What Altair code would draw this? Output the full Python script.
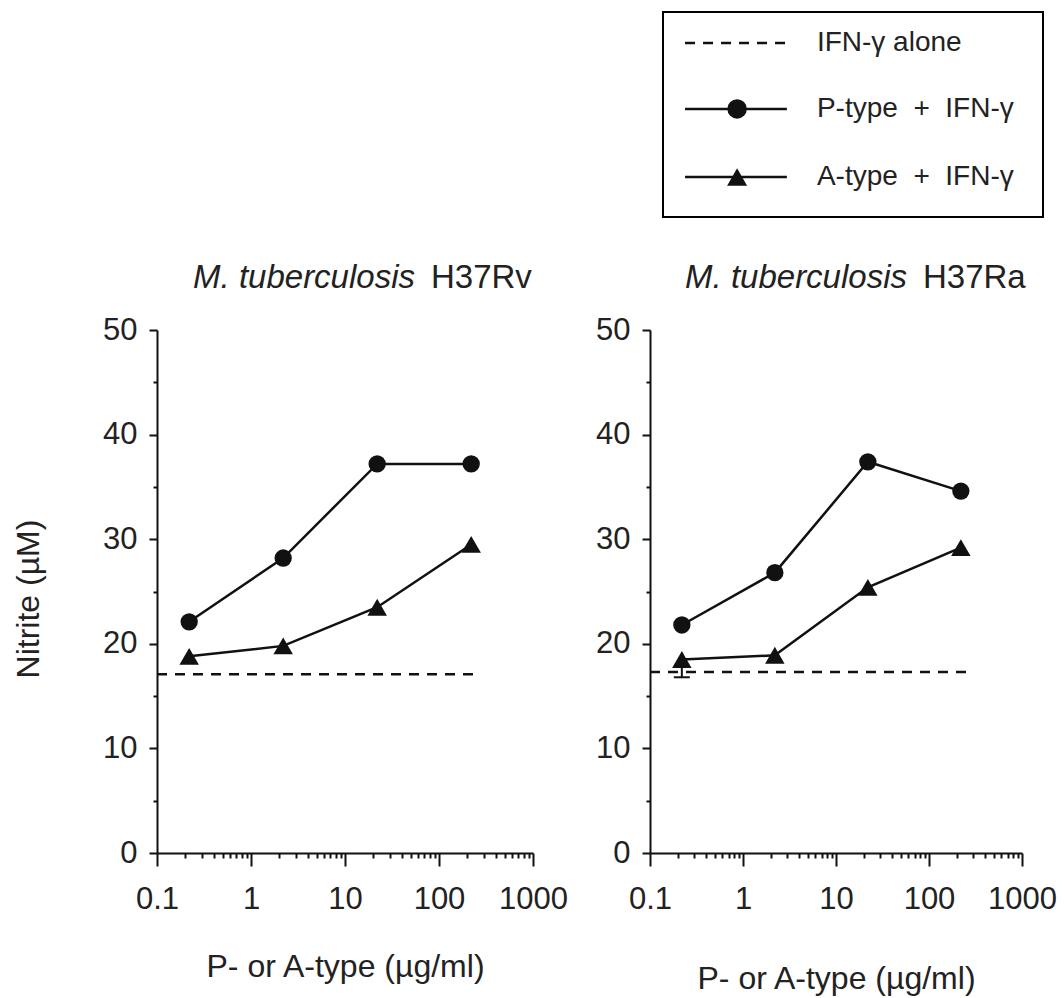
import altair as alt
import pandas as pd

# ---------------- data ----------------
conc = [0.22, 2.2, 22, 220]                 # µg/ml
rv_p = [22.1, 28.2, 37.2, 37.2]             # H37Rv, P-type + IFN-γ
rv_a = [18.8, 19.8, 23.5, 29.5]             # H37Rv, A-type + IFN-γ
rv_ifn = 17.1                               # H37Rv, IFN-γ alone
ra_p = [21.8, 26.8, 37.4, 34.6]             # H37Ra, P-type + IFN-γ
ra_a = [18.5, 18.9, 25.4, 29.2]             # H37Ra, A-type + IFN-γ
ra_ifn = 17.3                               # H37Ra, IFN-γ alone
ra_a_err_low = [16.8]                       # lower error bar, first A-type point (H37Ra)
ifn_x = [0.1, 250]                          # extent of the IFN-γ alone line

x_major = [0.1, 1, 10, 100, 1000]
x_ticks = [round(m * 10 ** e, 6) for e in range(-1, 3) for m in range(1, 10)] + [1000]
y_ticks = [0, 5, 10, 15, 20, 25, 30, 35, 40, 45, 50]
x_title = "P- or A-type (µg/ml)"
y_title = "Nitrite (µM)"
strains = ["H37Rv", "H37Ra"]
species = "M. tuberculosis"
legend_labels = ["IFN-γ alone", "P-type\u00a0 +\u00a0 IFN-γ", "A-type\u00a0 +\u00a0 IFN-γ"]

# ---------------- style ----------------
FONT = "Liberation Sans"
TXT = "#222222"
INK = "#111111"
MAJOR_TEST = "indexof([0.1,1,10,100,1000], datum.value) >= 0"


def make_x(title_y, width):
    return alt.X(
        "c:Q",
        scale=alt.Scale(type="log", domain=[0.1, 1000], nice=False),
        axis=alt.Axis(
            values=x_ticks, format="~g", labelExpr=f"{MAJOR_TEST} ? datum.label : ''",
            tickSize={"condition": {"test": MAJOR_TEST, "value": 13}, "value": 5},
            tickWidth=2, tickColor=INK, domainColor=INK, domainWidth=2, grid=False,
            labelFontSize=31, labelColor=TXT, labelFont=FONT, labelPadding=18,
            labelFlush=False, labelOverlap=False,
            title=x_title, titleFont=FONT, titleFontSize=32, titleFontWeight="normal",
            titleColor=TXT, titleX=width / 2, titleY=title_y, titleAlign="center",
            titleBaseline="middle", titleAngle=0,
        ),
    )


def make_y(show_title, height):
    return alt.Y(
        "v:Q",
        scale=alt.Scale(domain=[0, 50], nice=False, zero=False),
        axis=alt.Axis(
            values=y_ticks, labelExpr="datum.value % 10 == 0 ? datum.label : ''",
            tickSize={"condition": {"test": "datum.value % 10 == 0", "value": 8}, "value": 4},
            tickWidth=2, tickColor=INK, domainColor=INK, domainWidth=2, grid=False,
            labelFontSize=31, labelColor=TXT, labelFont=FONT, labelPadding=12,
            labelOverlap=False,
            title=y_title if show_title else "", titleFont=FONT, titleFontSize=32,
            titleFontWeight="normal", titleColor=TXT, titleX=-129, titleY=height / 2 + 7,
            titleAlign="center", titleBaseline="middle", titleAngle=-90,
        ),
    )


def panel(p, a, ifn, strain, show_ytitle, xtitle_y, width, height, title_split, err=None):
    x = make_x(xtitle_y, width)
    y = make_y(show_ytitle, height)
    df_p = pd.DataFrame({"c": conc, "v": p})
    df_a = pd.DataFrame({"c": conc, "v": a})
    df_i = pd.DataFrame({"c": ifn_x, "v": [ifn, ifn]})

    layers = [
        alt.Chart(df_i).mark_line(color=INK, strokeWidth=2.5, strokeDash=[10, 8]).encode(x=x, y=y),
        alt.Chart(df_p).mark_line(color=INK, strokeWidth=2.5).encode(x=x, y=y),
        alt.Chart(df_a).mark_line(color=INK, strokeWidth=2.5).encode(x=x, y=y),
    ]
    if err is not None:
        df_e = pd.DataFrame({"c": [conc[0]], "v": err, "v2": [a[0]]})
        layers.append(alt.Chart(df_e).mark_rule(color=INK, strokeWidth=2).encode(x=x, y=y, y2="v2:Q"))
        layers.append(alt.Chart(df_e).mark_point(shape="stroke", size=256, color=INK, strokeWidth=2,
                                                 filled=False, opacity=1).encode(x=x, y=y))
    layers += [
        alt.Chart(df_p).mark_point(shape="circle", size=300, filled=True, color=INK, opacity=1).encode(x=x, y=y),
        alt.Chart(df_a).mark_point(shape="triangle-up", size=380, filled=True, color=INK, opacity=1).encode(x=x, y=y),
    ]
    tdf = pd.DataFrame({"sp": [species], "st": [strain]})
    layers += [
        alt.Chart(tdf).mark_text(font=FONT, fontSize=33, fontStyle="italic", color=TXT,
                                 align="right", baseline="alphabetic").encode(
            text="sp:N", x=alt.value(title_split), y=alt.value(-42)),
        alt.Chart(tdf).mark_text(font=FONT, fontSize=33, color=TXT,
                                 align="left", baseline="alphabetic").encode(
            text="st:N", x=alt.value(title_split + 16), y=alt.value(-42)),
    ]
    return alt.layer(*layers).properties(width=width, height=height)


left = panel(rv_p, rv_a, rv_ifn, strains[0], True, 113, 376, 523, 258)
right = panel(ra_p, ra_a, ra_ifn, strains[1], False, 125, 372, 523, 257, err=ra_a_err_low)

# ---------------- legend (own scales, 0..1 box coordinates) ----------------
LEG_X1, LEG_X2, LEG_SYM, LEG_TXT = 0.058, 0.326, 0.195, 0.405
LEG_ROWS = [0.151, 0.473, 0.805]
lx = alt.X("x:Q", scale=alt.Scale(domain=[0, 1], nice=False, zero=False), axis=None)
ly = alt.Y("y:Q", scale=alt.Scale(domain=[0, 1], nice=False, zero=False, reverse=True), axis=None)
seg = pd.DataFrame({"x": [LEG_X1] * 3, "x2": [LEG_X2] * 3, "y": LEG_ROWS, "k": [0, 1, 2]})
lab = pd.DataFrame({"x": [LEG_TXT] * 3, "y": LEG_ROWS, "t": legend_labels})
legend = alt.layer(
    alt.Chart(seg.iloc[[0]]).mark_rule(color=INK, strokeWidth=2.5, strokeDash=[10, 8]).encode(x=lx, x2="x2:Q", y=ly),
    alt.Chart(seg.iloc[[1, 2]]).mark_rule(color=INK, strokeWidth=2.5).encode(x=lx, x2="x2:Q", y=ly),
    alt.Chart(pd.DataFrame({"x": [LEG_SYM], "y": [LEG_ROWS[1]]})).mark_point(
        shape="circle", size=380, filled=True, color=INK, opacity=1).encode(x=lx, y=ly),
    alt.Chart(pd.DataFrame({"x": [LEG_SYM], "y": [LEG_ROWS[2]]})).mark_point(
        shape="triangle-up", size=400, filled=True, color=INK, opacity=1).encode(x=lx, y=ly),
    alt.Chart(lab).mark_text(font=FONT, fontSize=28, color=TXT, align="left", baseline="middle").encode(
        x=lx, y=ly, text="t:N"),
).properties(width=380, height=205, view=alt.ViewBackground(stroke="black", strokeWidth=2))

spacer = alt.Chart(pd.DataFrame({"s": [0]})).mark_point(opacity=0).properties(
    width=506, height=205, view=alt.ViewBackground(strokeWidth=0))

top = alt.hconcat(spacer, legend, spacing=0, bounds="flush")
bottom = alt.hconcat(left, right, spacing=117, bounds="flush")

# the nested legend row counts as zero height in the flush layout, so the
# vertical spacing is the full distance from the legend top to the panels' top
chart = alt.vconcat(top, bottom, spacing=318, bounds="flush").properties(
    padding={"left": 12, "top": 11, "right": 5, "bottom": 5},
    background="white",
).configure_view(strokeWidth=0)

chart.save("out.html", embed_options={"renderer": "svg", "actions": False})
